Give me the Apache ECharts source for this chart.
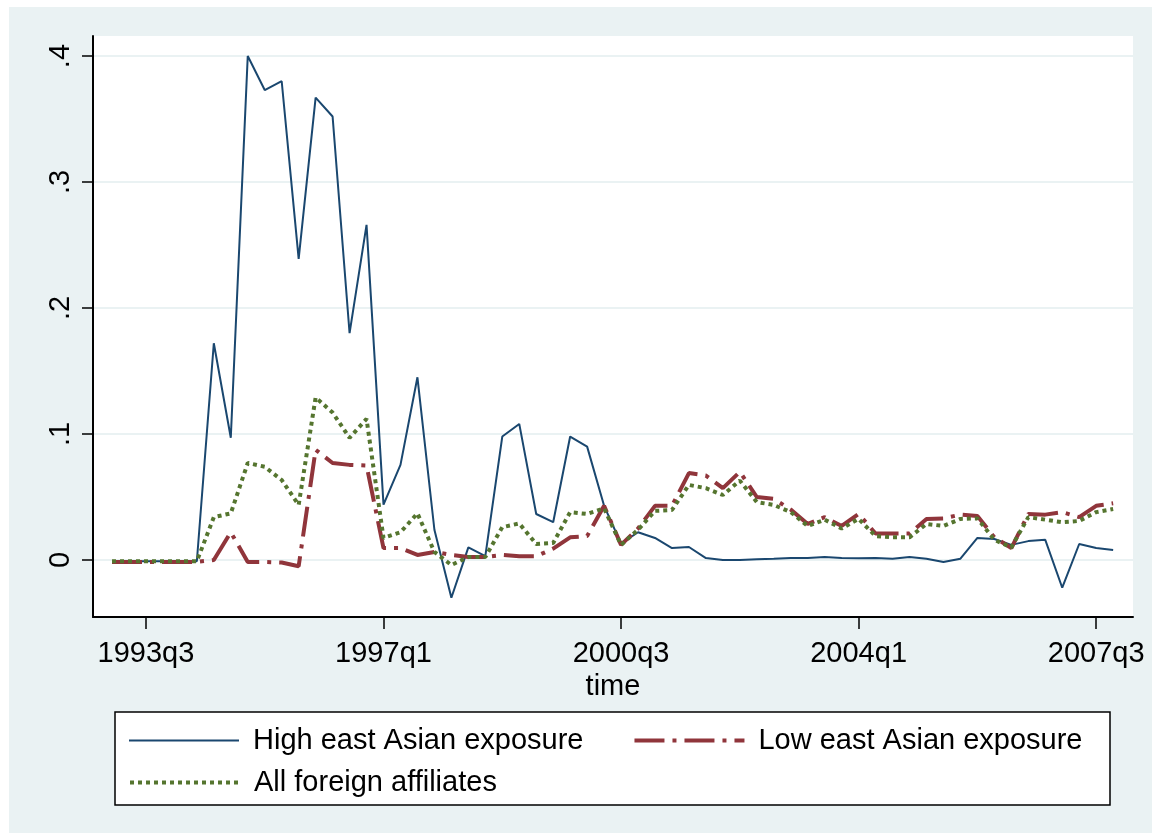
<!DOCTYPE html>
<html>
<head>
<meta charset="utf-8">
<script src="https://cdn.jsdelivr.net/npm/echarts@6/dist/echarts.min.js"></script>
<style>
html,body{margin:0;padding:0;background:#fff;}
#chart{width:1161px;height:834px;}
</style>
</head>
<body>
<div id="chart"></div>
<script>
// Quarterly categories, 1993q1 .. 2007q4 (index 0..59)
const quarters = [
 '1993q1','1993q2','1993q3','1993q4','1994q1','1994q2','1994q3','1994q4',
 '1995q1','1995q2','1995q3','1995q4','1996q1','1996q2','1996q3','1996q4',
 '1997q1','1997q2','1997q3','1997q4','1998q1','1998q2','1998q3','1998q4',
 '1999q1','1999q2','1999q3','1999q4','2000q1','2000q2','2000q3','2000q4',
 '2001q1','2001q2','2001q3','2001q4','2002q1','2002q2','2002q3','2002q4',
 '2003q1','2003q2','2003q3','2003q4','2004q1','2004q2','2004q3','2004q4',
 '2005q1','2005q2','2005q3','2005q4','2006q1','2006q2','2006q3','2006q4',
 '2007q1','2007q2','2007q3','2007q4'
];
const xTickLabels = ['1993q3','1997q1','2000q3','2004q1','2007q3'];
const yTickValues = [0, 0.1, 0.2, 0.3, 0.4];
const yTickLabels = ['0', '.1', '.2', '.3', '.4'];

const highEastAsian = [
 -0.001,-0.001,-0.001,-0.001,-0.001,-0.001,0.172,0.097,0.400,0.373,
 0.380,0.239,0.367,0.352,0.180,0.266,0.044,0.0755,0.145,0.024,
 -0.030,0.010,0.003,0.098,0.108,0.0365,0.030,0.098,0.090,0.043,
 0.013,0.022,0.0175,0.0095,0.0103,0.0015,0.0,0.0,0.0005,0.001,
 0.0016,0.0016,0.0024,0.0016,0.0013,0.0016,0.001,0.0024,0.001,-0.0016,
 0.001,0.0175,0.0167,0.012,0.015,0.016,-0.022,0.0127,0.0095,0.008
];
const lowEastAsian = [
 -0.0015,-0.0015,-0.0015,-0.0015,-0.0015,-0.0015,0.0,0.022,-0.0015,-0.0015,
 -0.002,-0.005,0.0875,0.077,0.0755,0.075,0.0095,0.0095,0.004,0.0064,
 0.004,0.0024,0.0024,0.004,0.003,0.003,0.009,0.018,0.019,0.043,
 0.012,0.025,0.043,0.043,0.069,0.067,0.057,0.070,0.050,0.0485,
 0.040,0.0286,0.034,0.027,0.0365,0.021,0.021,0.021,0.0326,0.033,
 0.036,0.035,0.018,0.0095,0.0365,0.036,0.038,0.034,0.043,0.045
];
const allForeign = [
 -0.001,-0.001,-0.001,-0.001,-0.001,-0.001,0.034,0.037,0.077,0.074,
 0.0635,0.0437,0.129,0.117,0.097,0.112,0.0175,0.022,0.037,0.0064,
 -0.004,0.0024,0.0024,0.026,0.029,0.0127,0.0135,0.038,0.0365,0.041,
 0.012,0.024,0.039,0.0397,0.0596,0.057,0.0516,0.063,0.046,0.0437,
 0.038,0.027,0.032,0.025,0.0326,0.019,0.018,0.018,0.0286,0.027,
 0.0326,0.033,0.016,0.010,0.034,0.032,0.030,0.031,0.038,0.0405
];

const toPairs = arr => arr.map((v, i) => [i, v]);
const xTickIdx = xTickLabels.map(l => quarters.indexOf(l));

const FONT = 'Liberation Sans, Arial, sans-serif';
const chart = echarts.init(document.getElementById('chart'), null, {renderer: 'canvas'});

const legendCommon = {
  padding: 0, itemWidth: 110, itemHeight: 14, z: 10,
  itemStyle: {opacity: 0},
  lineStyle: {width: 'inherit', type: 'inherit', color: 'inherit'},
  textStyle: {fontFamily: FONT, fontSize: 29, color: '#000', padding: [0, 0, 0, 9]}
};

const option = {
  backgroundColor: '#ffffff',
  animation: false,
  graphic: [
    {type: 'rect', z: -10, silent: true, shape: {x: 9, y: 7, width: 1143, height: 826}, style: {fill: '#EAF2F3'}},
    {type: 'rect', z: -9, silent: true, shape: {x: 93, y: 36, width: 1040, height: 581}, style: {fill: '#ffffff'}},
    {type: 'rect', z: 5, silent: true, shape: {x: 115, y: 712, width: 995, height: 93}, style: {fill: '#ffffff', stroke: '#000', lineWidth: 1.5}}
  ],
  grid: {left: 93, top: 36, width: 1040, height: 581},
  xAxis: {
    type: 'value',
    min: -1.12, max: 60.17,
    name: 'time', nameLocation: 'middle', nameGap: 41,
    nameTextStyle: {fontFamily: FONT, fontSize: 29, color: '#000'},
    axisLine: {show: true, onZero: false, lineStyle: {color: '#000', width: 2}},
    axisTick: {show: true, length: 12, lineStyle: {color: '#000', width: 1.5}, customValues: xTickIdx},
    axisLabel: {
      customValues: xTickIdx, margin: 22,
      fontFamily: FONT, fontSize: 29, color: '#000',
      formatter: v => quarters[Math.round(v)]
    },
    splitLine: {show: false}
  },
  yAxis: {
    type: 'value',
    min: -0.04524, max: 0.4159,
    axisLine: {show: true, onZero: false, lineStyle: {color: '#000', width: 2}},
    axisTick: {show: true, length: 11, lineStyle: {color: '#000', width: 1.5}, customValues: yTickValues},
    axisLabel: {
      customValues: yTickValues, rotate: 90, margin: 18,
      fontFamily: FONT, fontSize: 29, color: '#000',
      formatter: v => yTickLabels[yTickValues.findIndex(t => Math.abs(t - v) < 1e-9)]
    },
    splitLine: {show: true, lineStyle: {color: '#EAF2F3', width: 2}}
  },
  legend: [
    Object.assign({}, legendCommon, {
      data: ['High east Asian exposure', 'Low east Asian exposure'],
      left: 128, top: 726, itemGap: 49
    }),
    Object.assign({}, legendCommon, {
      data: ['All foreign affiliates'],
      left: 128, top: 768
    })
  ],
  series: [
    {
      name: 'High east Asian exposure', type: 'line', data: toPairs(highEastAsian),
      symbol: 'none', showSymbol: false,
      lineStyle: {color: '#1A476F', width: 2},
      itemStyle: {color: '#1A476F'}
    },
    {
      name: 'Low east Asian exposure', type: 'line', data: toPairs(lowEastAsian),
      symbol: 'none', showSymbol: false,
      lineStyle: {color: '#90353B', width: 4, type: [30, 8, 4, 8], cap: 'butt'},
      itemStyle: {color: '#90353B'}
    },
    {
      name: 'All foreign affiliates', type: 'line', data: toPairs(allForeign),
      symbol: 'none', showSymbol: false,
      lineStyle: {color: '#55752F', width: 4, type: [4, 4], cap: 'butt'},
      itemStyle: {color: '#55752F'}
    }
  ]
};
chart.setOption(option);
</script>
</body>
</html>
